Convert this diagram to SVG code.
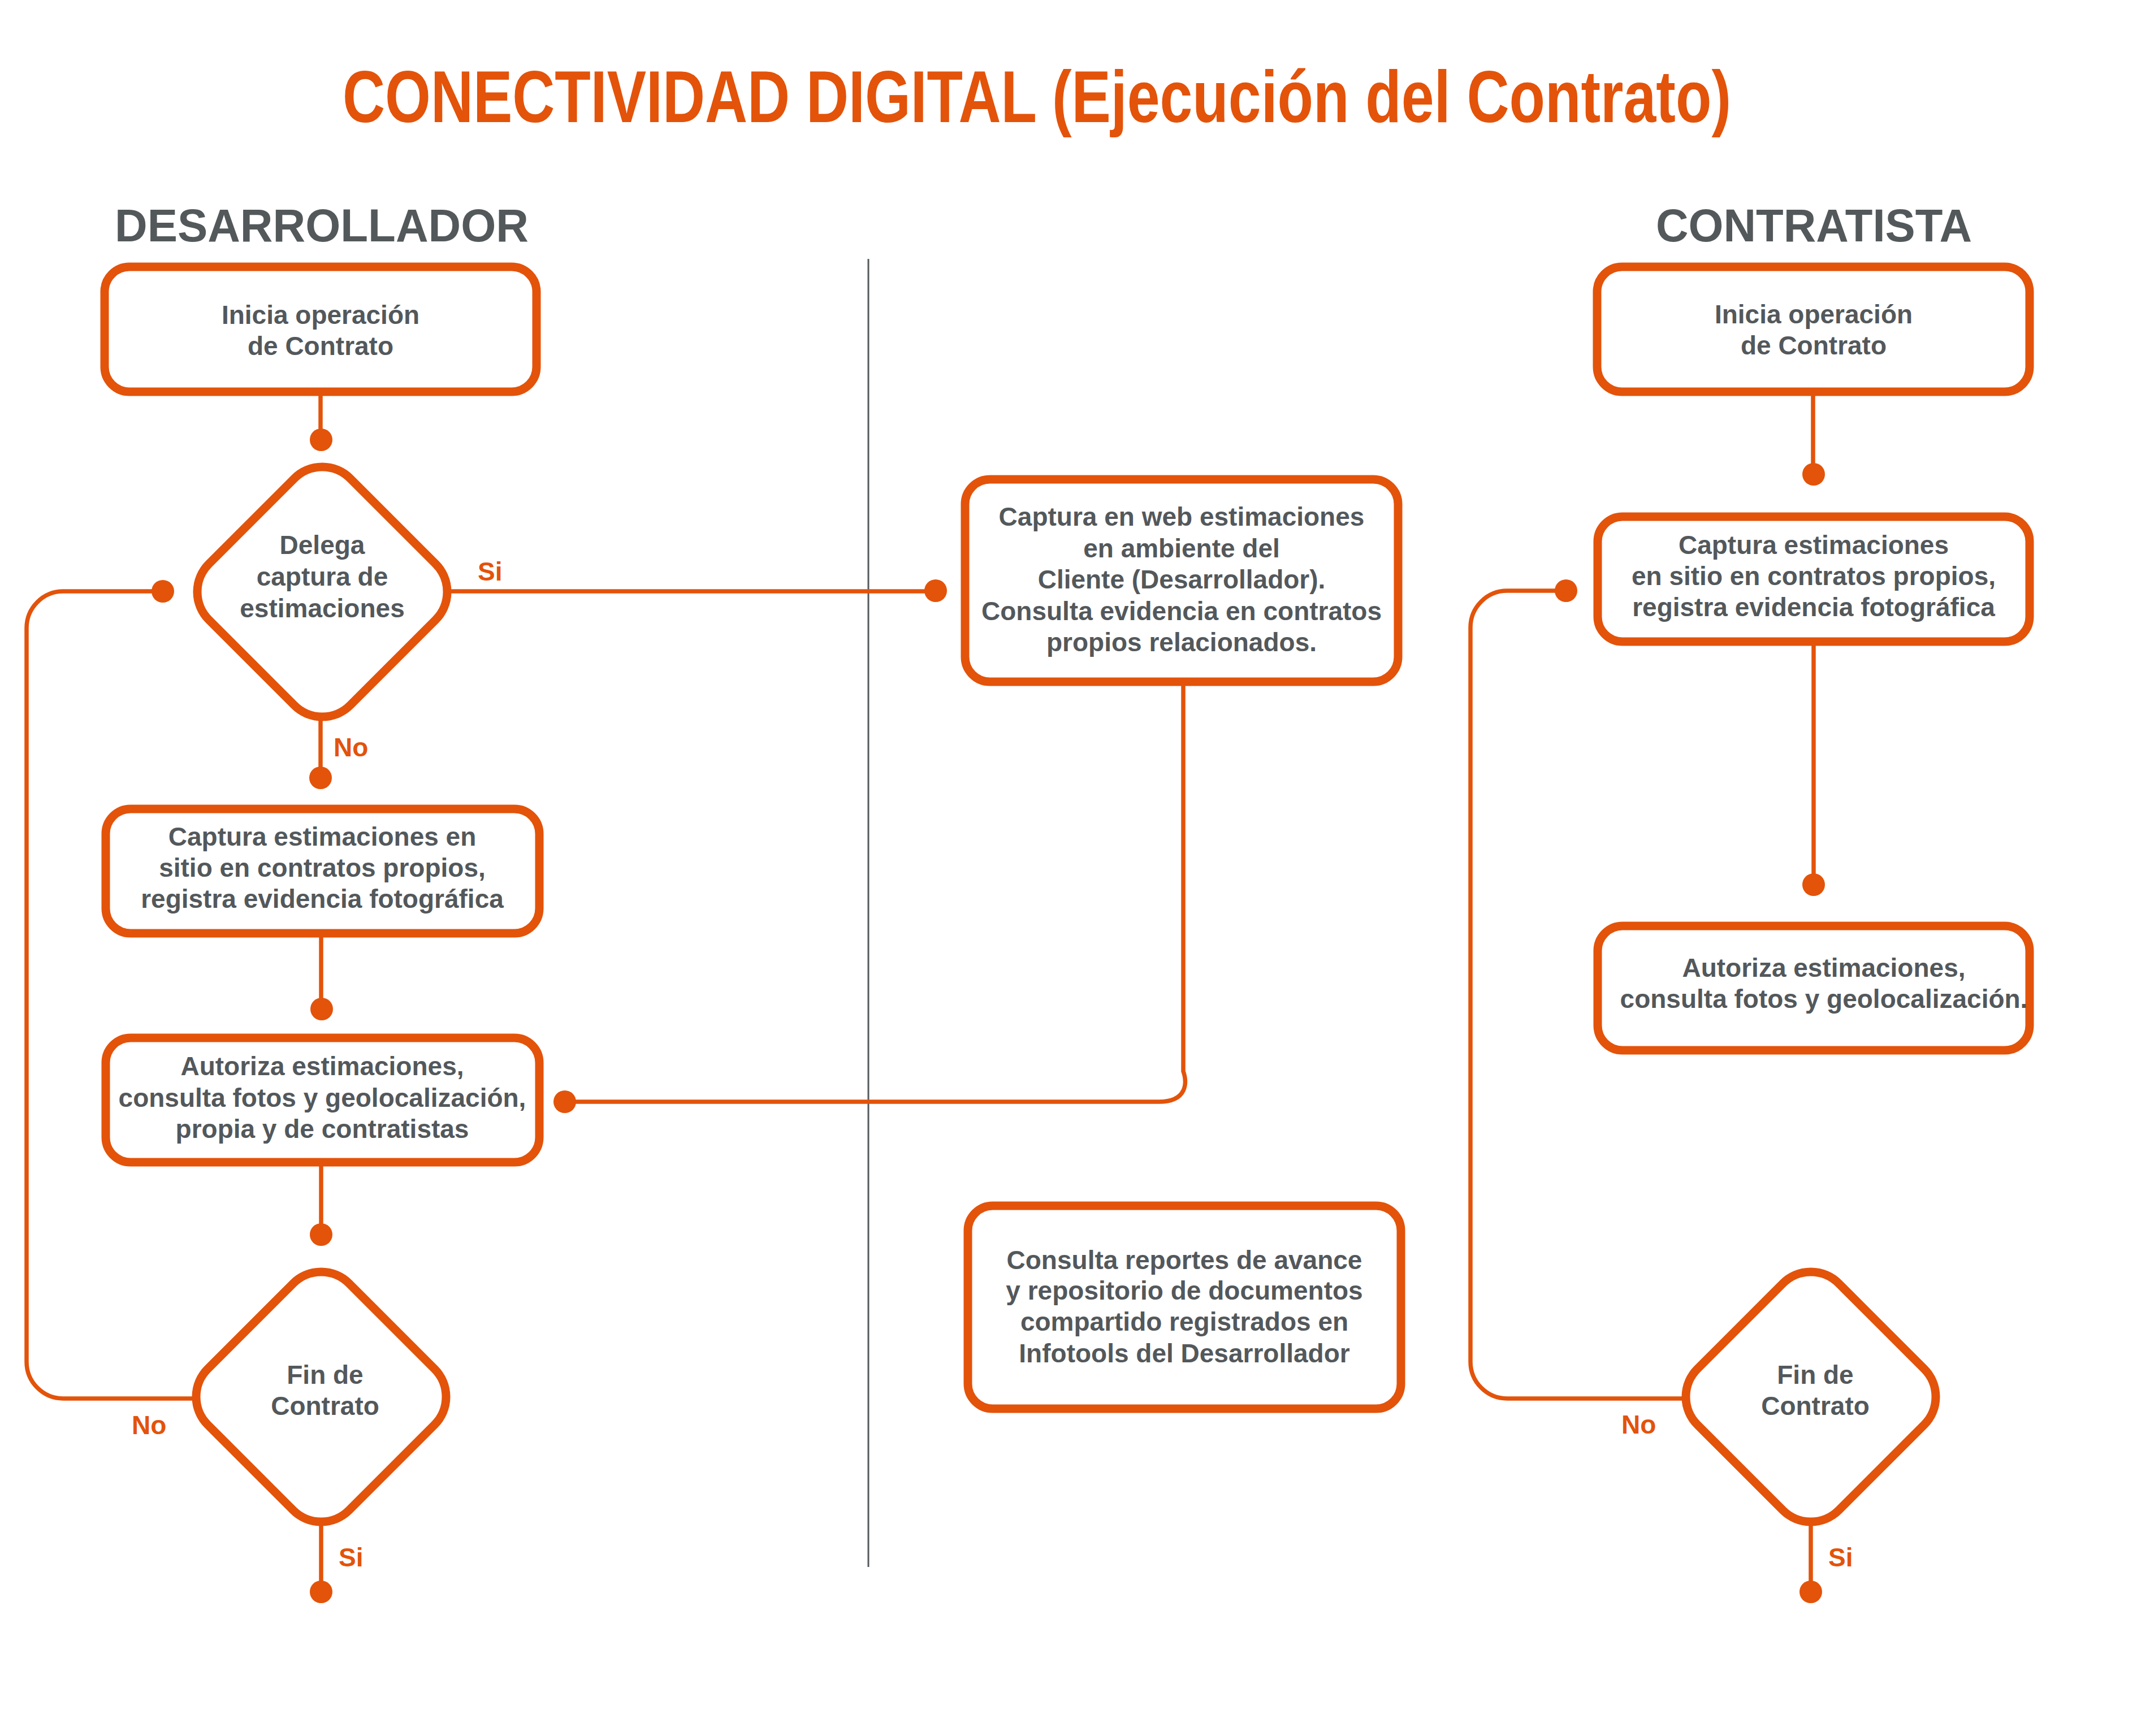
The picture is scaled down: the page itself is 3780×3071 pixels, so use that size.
<svg xmlns="http://www.w3.org/2000/svg" width="3780" height="3071" viewBox="0 0 3780 3071">
<defs>
<style>
.box{fill:#FFFFFF;stroke:#E3530A;stroke-width:15}
.conn{fill:none;stroke:#E3530A;stroke-width:7.5}
.dot{fill:#E3530A}
.t{font-family:"Liberation Sans",Arial,Helvetica,sans-serif;font-weight:bold;font-size:46px;fill:#53585B;text-anchor:middle}
.yn{font-family:"Liberation Sans",Arial,Helvetica,sans-serif;font-weight:bold;font-size:46px;fill:#E3530A}
.hdr{font-family:"Liberation Sans",Arial,Helvetica,sans-serif;font-weight:bold;font-size:82px;fill:#53585B}
.title{font-family:"Liberation Sans",Arial,Helvetica,sans-serif;font-weight:bold;font-size:130px;fill:#E3530A}
</style>
<path id="dia" d="M-49.5,-200.5 A70,70 0 0 1 49.5,-200.5 L200.5,-49.5 A70,70 0 0 1 200.5,49.5 L49.5,200.5 A70,70 0 0 1 -49.5,200.5 L-200.5,49.5 A70,70 0 0 1 -200.5,-49.5 Z"/>
</defs>
<rect x="0" y="0" width="3780" height="3071" fill="#FFFFFF"/>

<text class="title" x="606" y="216" textLength="2456" lengthAdjust="spacingAndGlyphs">CONECTIVIDAD DIGITAL (Ejecución del Contrato)</text>
<text class="hdr" x="203" y="427" textLength="732" lengthAdjust="spacingAndGlyphs">DESARROLLADOR</text>
<text class="hdr" x="2929" y="427" textLength="559" lengthAdjust="spacingAndGlyphs">CONTRATISTA</text>

<line x1="1536" y1="458" x2="1536" y2="2772" stroke="#555A5C" stroke-width="3"/>

<g id="connectors">
<path class="conn" d="M567,693 V778"/>
<path class="conn" d="M567,1269 V1376"/>
<path class="conn" d="M791,1046 H1655"/>
<path class="conn" d="M568,1651 V1785"/>
<path class="conn" d="M568,2056 V2184"/>
<path class="conn" d="M568,2692 V2816"/>
<path class="conn" d="M347,2474 H112 A65,65 0 0 1 47,2409 V1111 A65,65 0 0 1 112,1046 H288"/>
<path class="conn" d="M2093,1206 V1895 C2100,1915 2100,1949 2050,1949 H999"/>
<path class="conn" d="M3207,693 V839"/>
<path class="conn" d="M3208,1135 V1565"/>
<path class="conn" d="M2982,2474 H2666 A65,65 0 0 1 2601,2409 V1110 A65,65 0 0 1 2666,1045 H2770"/>
<path class="conn" d="M3203,2692 V2816"/>
<circle class="dot" cx="568" cy="778" r="20"/>
<circle class="dot" cx="567" cy="1376" r="20"/>
<circle class="dot" cx="1655" cy="1045" r="20"/>
<circle class="dot" cx="288" cy="1046" r="20"/>
<circle class="dot" cx="569" cy="1785" r="20"/>
<circle class="dot" cx="568" cy="2184" r="20"/>
<circle class="dot" cx="568" cy="2816" r="20"/>
<circle class="dot" cx="999" cy="1949" r="20"/>
<circle class="dot" cx="3208" cy="839" r="20"/>
<circle class="dot" cx="3208" cy="1565" r="20"/>
<circle class="dot" cx="2770" cy="1045" r="20"/>
<circle class="dot" cx="3203" cy="2816" r="20"/>
<text class="yn" x="845" y="1027">Si</text>
<text class="yn" x="590" y="1338">No</text>
<text class="yn" x="233" y="2537">No</text>
<text class="yn" x="599" y="2771">Si</text>
<text class="yn" x="2868" y="2536">No</text>
<text class="yn" x="3234" y="2771">Si</text>
</g>

<g id="dev-inicia">
<rect class="box" x="185" y="472" width="764" height="221" rx="44"/>
<text class="t" x="567"><tspan x="567" y="573">Inicia operación</tspan><tspan x="567" y="628">de Contrato</tspan></text>
</g>
<g id="dev-delega">
<use href="#dia" class="box" transform="translate(570,1047)"/>
<text class="t"><tspan x="570" y="980">Delega</tspan><tspan x="570" y="1036">captura de</tspan><tspan x="570" y="1092">estimaciones</tspan></text>
</g>
<g id="dev-captura">
<rect class="box" x="187" y="1431" width="767" height="220" rx="44"/>
<text class="t"><tspan x="570" y="1496">Captura estimaciones en</tspan><tspan x="570" y="1551">sitio en contratos propios,</tspan><tspan x="570" y="1606">registra evidencia fotográfica</tspan></text>
</g>
<g id="dev-autoriza">
<rect class="box" x="187" y="1836" width="767" height="220" rx="44"/>
<text class="t"><tspan x="570" y="1902">Autoriza estimaciones,</tspan><tspan x="570" y="1958">consulta fotos y geolocalización,</tspan><tspan x="570" y="2013">propia y de contratistas</tspan></text>
</g>
<g id="dev-fin">
<use href="#dia" class="box" transform="translate(568,2471)"/>
<text class="t"><tspan x="575" y="2448">Fin de</tspan><tspan x="575" y="2503">Contrato</tspan></text>
</g>

<g id="mid-web">
<rect class="box" x="1707" y="848" width="766" height="358" rx="44"/>
<text class="t"><tspan x="2090" y="930">Captura en web estimaciones</tspan><tspan x="2090" y="986">en ambiente del</tspan><tspan x="2090" y="1041">Cliente (Desarrollador).</tspan><tspan x="2090" y="1097">Consulta evidencia en contratos</tspan><tspan x="2090" y="1152">propios relacionados.</tspan></text>
</g>
<g id="mid-reportes">
<rect class="box" x="1712" y="2133" width="766" height="359" rx="44"/>
<text class="t"><tspan x="2095" y="2245">Consulta reportes de avance</tspan><tspan x="2095" y="2299">y repositorio de documentos</tspan><tspan x="2095" y="2354">compartido registrados en</tspan><tspan x="2095" y="2410">Infotools del Desarrollador</tspan></text>
</g>

<g id="con-inicia">
<rect class="box" x="2825" y="472" width="765" height="221" rx="44"/>
<text class="t"><tspan x="3208" y="572">Inicia operación</tspan><tspan x="3208" y="627">de Contrato</tspan></text>
</g>
<g id="con-captura">
<rect class="box" x="2826" y="914" width="764" height="221" rx="44"/>
<text class="t"><tspan x="3208" y="980">Captura estimaciones</tspan><tspan x="3208" y="1035">en sitio en contratos propios,</tspan><tspan x="3208" y="1090">registra evidencia fotográfica</tspan></text>
</g>
<g id="con-autoriza">
<rect class="box" x="2826" y="1638" width="764" height="220" rx="44"/>
<text class="t"><tspan x="3226" y="1728">Autoriza estimaciones,</tspan><tspan x="3226" y="1783">consulta fotos y geolocalización.</tspan></text>
</g>
<g id="con-fin">
<use href="#dia" class="box" transform="translate(3203,2471)"/>
<text class="t"><tspan x="3211" y="2448">Fin de</tspan><tspan x="3211" y="2503">Contrato</tspan></text>
</g>
</svg>
